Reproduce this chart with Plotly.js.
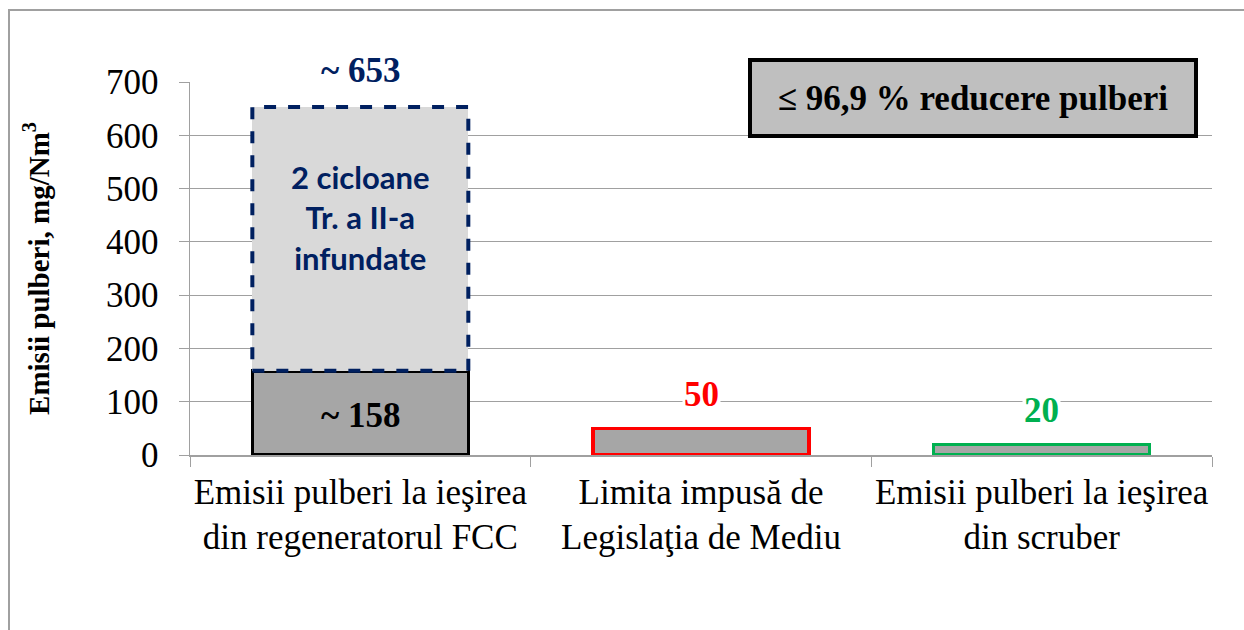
<!DOCTYPE html>
<html>
<head>
<meta charset="utf-8">
<script src="https://cdn.plot.ly/plotly-3.0.1.min.js"></script>
<style>
  body { margin: 0; background: #fff; overflow: hidden; }
  #frame { position: absolute; left: 8px; top: 9px; width: 1300px; height: 700px;
           border: 2px solid #a0a0a0; pointer-events: none; z-index: 5; }
  #chart { position: absolute; left: 0; top: 0; }
</style>
</head>
<body>
<div id="frame"></div>
<div id="chart"></div>
<script>
// categories and values
var categories = [
    'Emisii pulberi la ieşirea<br>din regeneratorul FCC',
    'Limita impusă de<br>Legislaţia de Mediu',
    'Emisii pulberi la ieşirea<br>din scruber'
];
var baseValues = [158, 50, 20];
var extraValues = [495, 0, 0];           // 653 - 158, cicloane infundate
var totalValues = [653, 50, 20];
var labelTexts = ['~ 158', '50', '20'];
var topLabel = '~ 653';
var boxText = '≤ 96,9 % reducere pulberi';
var innerText = '2 cicloane<br>Tr. a II-a<br>infundate';

var borderColors = ['#000000', '#ff0000', '#00b050'];
var labelColors = ['#000000', '#ff0000', '#00b050'];
var navy = '#002060';
var barWidth = 0.634;
var serif = 'Liberation Serif, Times New Roman, serif';

var baseTrace = {
    x: categories,
    y: baseValues,
    type: 'bar',
    width: barWidth,
    marker: {
        color: '#a6a6a6',
        line: { color: borderColors, width: 3.5 }
    },
    hoverinfo: 'y',
    showlegend: false
};

var extraTrace = {
    x: categories,
    y: extraValues,
    type: 'bar',
    width: barWidth,
    marker: { color: '#d9d9d9', line: { width: 0 } },
    hoverinfo: 'y',
    showlegend: false
};

// dashed outline of the stacked part (bars can't have dashed borders)
var shapes = [{
    type: 'rect', xref: 'x', yref: 'y',
    x0: 0 - barWidth / 2, x1: 0 + barWidth / 2,
    y0: baseValues[0], y1: totalValues[0],
    line: { color: navy, width: 4, dash: 'dash' },
    layer: 'above'
}];

var annotations = [];
// value labels
annotations.push({
    x: categories[0], y: baseValues[0] / 2, text: '<b>' + labelTexts[0] + '</b>',
    showarrow: false, yshift: -3,
    font: { family: serif, size: 35, color: labelColors[0] }
});
for (var i = 1; i < categories.length; i++) {
    annotations.push({
        x: categories[i], y: baseValues[i], text: '<b>' + labelTexts[i] + '</b>',
        showarrow: false, yanchor: 'bottom', yshift: 12,
        bgcolor: '#ffffff',
        font: { family: serif, size: 35, color: labelColors[i] }
    });
}
annotations.push({
    x: categories[0], y: totalValues[0], text: '<b>' + topLabel + '</b>',
    showarrow: false, yanchor: 'bottom', yshift: 14,
    bgcolor: '#ffffff', borderpad: 2,
    font: { family: serif, size: 35, color: navy }
});
annotations.push({
    x: categories[0], y: (baseValues[0] + totalValues[0]) / 2 + 40,
    text: '<b>' + innerText + '</b>',
    showarrow: false,
    font: { family: 'Lato, Open Sans, sans-serif', size: 31, color: navy }
});
annotations.push({
    xref: 'paper', yref: 'paper', x: 0.766, y: 0.956,
    xanchor: 'center', yanchor: 'middle',
    text: '<b>' + boxText + '</b>',
    showarrow: false,
    bgcolor: '#bfbfbf', bordercolor: '#000000', borderwidth: 4,
    width: 440, height: 70,
    font: { family: serif, size: 35, color: '#000000' }
});

var layout = {
    width: 1244,
    height: 630,
    margin: { l: 190, r: 32, t: 82, b: 175 },
    barmode: 'stack',
    paper_bgcolor: '#ffffff',
    plot_bgcolor: '#ffffff',
    font: { family: serif, color: '#000000' },
    xaxis: {
        type: 'category',
        tickson: 'boundaries',
        tickangle: 0,
        ticks: 'outside', ticklen: 10, tickcolor: '#a0a0a0',
        ticklabelstandoff: 5,
        showline: true, linecolor: '#a0a0a0', linewidth: 1.5,
        tickfont: { family: serif, size: 35, color: '#000000' },
        showgrid: false
    },
    yaxis: {
        range: [0, 700],
        dtick: 100,
        ticks: 'outside', ticklen: 10, tickcolor: '#a0a0a0',
        ticklabelstandoff: 13,
        showline: true, linecolor: '#a0a0a0', linewidth: 1.5,
        gridcolor: '#a0a0a0', gridwidth: 1.2,
        zeroline: false,
        tickfont: { family: serif, size: 35, color: '#000000' },
        title: {
            text: '<b>Emisii pulberi, mg/Nm<sup>3</sup></b>',
            font: { family: serif, size: 29, color: '#000000' },
            standoff: 48
        }
    },
    shapes: shapes,
    annotations: annotations,
    bargap: 0.366
};

Plotly.newPlot('chart', [baseTrace, extraTrace], layout, { displayModeBar: false, staticPlot: true });
</script>
</body>
</html>
